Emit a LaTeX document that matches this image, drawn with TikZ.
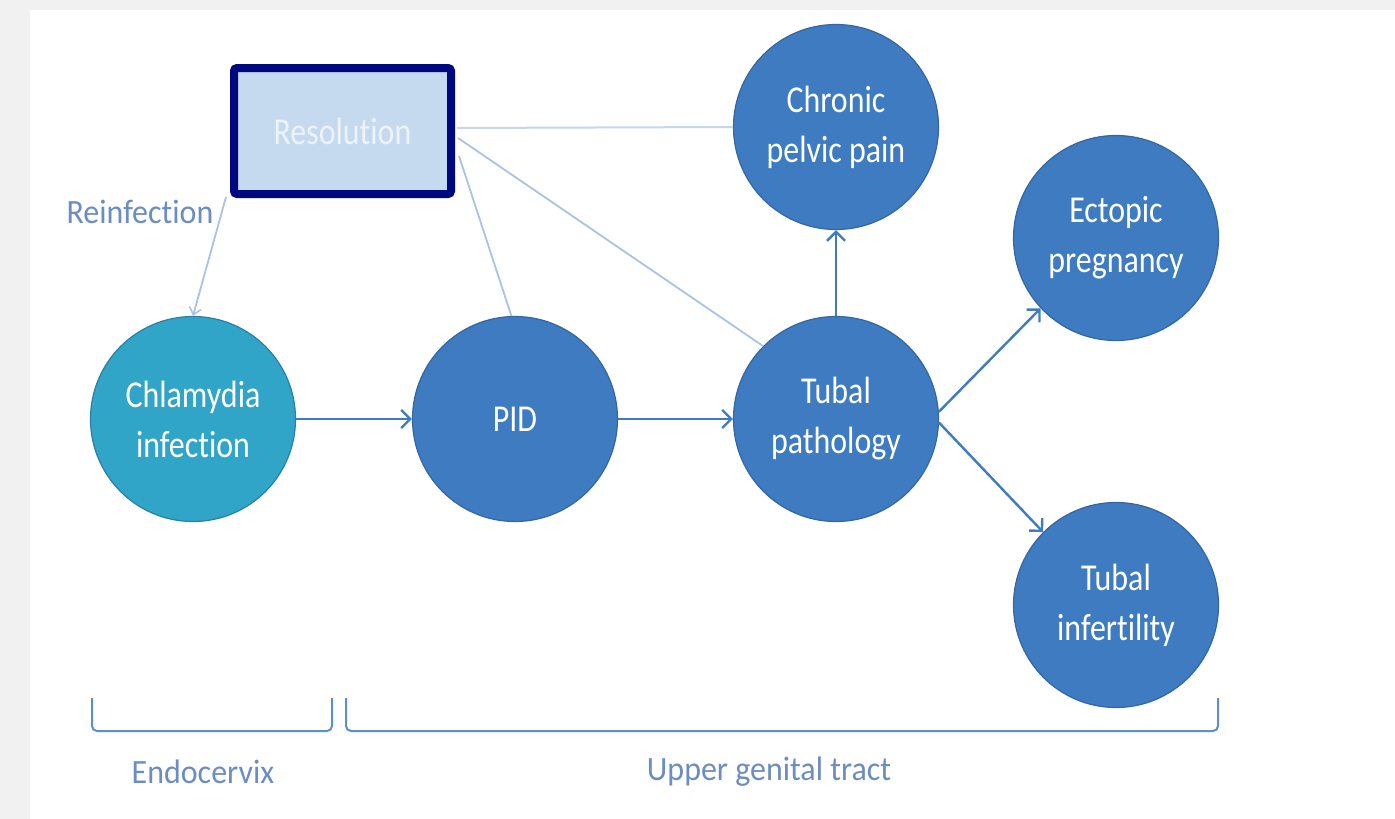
\documentclass[tikz,border=0pt]{standalone}
\usepackage{fontspec}
\setmainfont{Carlito}[Ligatures={NoCommon,NoContextual,NoRare},RawFeature={-calt;-clig;-liga}]
\newfontfamily\nodefont[FakeStretch=0.84,Ligatures={NoCommon,NoContextual,NoRare},RawFeature={-calt;-clig;-liga}]{Carlito}
\newfontfamily\labfont[FakeStretch=0.94,Ligatures={NoCommon,NoContextual,NoRare},RawFeature={-calt;-clig;-liga}]{Carlito}
\usetikzlibrary{arrows.meta}
\definecolor{nodeblue}{HTML}{3E7BC0}
\definecolor{nodeedge}{HTML}{3366A3}
\definecolor{tealfill}{HTML}{30A5C7}
\definecolor{tealedge}{HTML}{2A7FA8}
\definecolor{resfill}{HTML}{C6DAEF}
\definecolor{resedge}{HTML}{00087F}
\definecolor{restext}{HTML}{EDF3FA}
\definecolor{paleline}{HTML}{C3D7EE}
\definecolor{midline}{HTML}{A9C3E5}
\definecolor{bracketc}{HTML}{5E8FCC}
\definecolor{labelc}{HTML}{6B8DC3}
\definecolor{framegray}{HTML}{F1F1F1}
\tikzset{
  circnode/.style={circle, minimum size=205pt, inner sep=0pt, fill=nodeblue, draw=nodeedge, line width=1.2pt,
    text=white, align=center, font=\nodefont\fontsize{38}{50}\selectfont},
  mainarrow/.style={draw=nodeblue, line width=2.4pt, -{Straight Barb[length=9pt,width=18pt,line width=2.4pt]}},
  paleconn/.style={draw=paleline, line width=2pt},
  midconn/.style={draw=midline, line width=1.8pt},
  bracket/.style={draw=bracketc, line width=2pt, rounded corners=5pt},
  lab/.style={text=labelc, font=\labfont\fontsize{34}{40}\selectfont, inner sep=0pt}
}
\begin{document}
\begin{tikzpicture}[x=1pt,y=-1pt]
\useasboundingbox (0,0) rectangle (1395,819);
\fill[framegray] (0,0) rectangle (1395,819);
\fill[white] (30,10) rectangle (1395,819);

% nodes
\node[circnode, fill=tealfill, draw=tealedge] (chl) at (193,419) {Chlamydia\\infection};
\node[circnode] (pid) at (515,419) {PID};
\node[circnode] (tub) at (836,419) {Tubal\\pathology};
\node[circnode] (chr) at (836,127) {Chronic\\pelvic pain};
\node[circnode] (ect) at (1116,238) {Ectopic\\pregnancy};
\node[circnode] (inf) at (1116,605) {Tubal\\infertility};
\node[draw=resedge, fill=resfill, line width=8pt, rounded corners=3pt, minimum width=217pt, minimum height=126pt,
  text=restext, font=\nodefont\fontsize{38}{50}\selectfont] (res) at (342.5,131) {Resolution};

% resolution connectors
\coordinate (r1) at (457,128);
\coordinate (r2) at (458,138);
\coordinate (r3) at (459,156);
\coordinate (r4) at (226,197);
\draw[paleconn] (r1) -- (chr.west);
\draw[midconn] (r2) -- (tub.135);
\draw[midconn] (r3) -- (pid.92);
\draw[midconn, -{Straight Barb[length=7pt,width=12pt,line width=1.6pt]}] (r4) -- (chl.north);

\node[lab] (reinf) at (140,212) {Reinfection};

% main arrows
\draw[mainarrow] (chl.east) -- (pid.west);
\draw[mainarrow] (pid.east) -- (tub.west);
\draw[mainarrow] (tub.north) -- (chr.south);
\draw[mainarrow] (tub.4) -- (ect.223);
\draw[mainarrow] (tub.-2) -- (inf.135);

% brackets
\coordinate (b1a) at (92,698); \coordinate (b1b) at (332,698);
\coordinate (b2a) at (346,698); \coordinate (b2b) at (1218,698);
\draw[bracket] (b1a) -- (92,731) -- (332,731) -- (b1b);
\draw[bracket] (b2a) -- (346,731) -- (1218,731) -- (b2b);
\node[lab] (endo) at (203,772) {Endocervix};
\node[lab] (upper) at (769,772) {Upper genital tract};
\end{tikzpicture}
\end{document}
